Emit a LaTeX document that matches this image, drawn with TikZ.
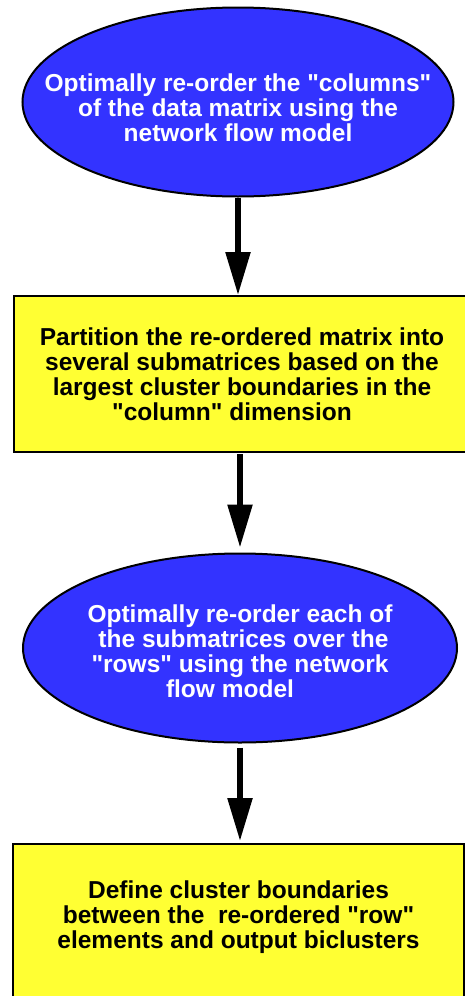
\documentclass[tikz,border=0pt]{standalone}
\usepackage{fontspec}
\setmainfont{Liberation Sans}
\usetikzlibrary{shapes.geometric,arrows.meta}
\definecolor{flowblue}{RGB}{51,51,255}
\definecolor{flowyellow}{RGB}{255,255,51}
\newcommand{\qd}{\textquotedbl}
\newcommand{\lift}[1]{\rule{0pt}{#1}}

\begin{document}
\begin{tikzpicture}[x=1pt, y=-1pt,
    oval/.style={shape=ellipse, draw=black, line width=2pt, fill=flowblue, text=white,
        inner xsep=-50pt, inner ysep=0pt, align=center, font=\bfseries\fontsize{24.5}{25}\selectfont},
    stepbox/.style={shape=rectangle, draw=black, line width=2pt, fill=flowyellow,
        inner sep=0pt, align=center, font=\bfseries\fontsize{24.5}{25}\selectfont},
    flow/.style={-{Triangle[length=43pt,width=24pt]}, line width=5.5pt}]
            \useasboundingbox (0,0) rectangle (465,996);
            \clip (0,0) rectangle (465,996);

            \node[oval, minimum width=431pt, minimum height=189pt] (cols) at (238,102)
                {\lift{29pt}Optimally re-order the \qd columns\qd\\of the data matrix using the\\network flow model};
            \node[stepbox, minimum width=456pt, minimum height=156pt] (part) at (242,374)
                {Partition the re-ordered matrix into\\several submatrices based on the\\largest cluster boundaries in the\\\qd column\qd\ dimension\hspace*{20pt}};
            \node[oval, minimum width=434pt, minimum height=189pt] (rows) at (240,648)
                {\lift{24pt}Optimally re-order each of\\\hspace*{7pt}the submatrices over the\\\qd rows\qd\ using the network\\flow model\hspace*{20pt}};
            \node[stepbox, minimum width=451pt, minimum height=166pt] (define) at (238.5,927)
                {Define cluster boundaries\\between the\ \ re-ordered \qd row\qd\\elements and output biclusters\\\mbox{}};

            \draw[flow] (cols.south) -- (cols.south |- part.north);
            \draw[flow, shorten <=1pt, shorten >=5pt] (part.south -| rows.north) -- (rows.north);
            \draw[flow, shorten <=4pt, shorten >=2pt] (rows.south) -- (rows.south |- define.north);
        \end{tikzpicture}
\end{document}
